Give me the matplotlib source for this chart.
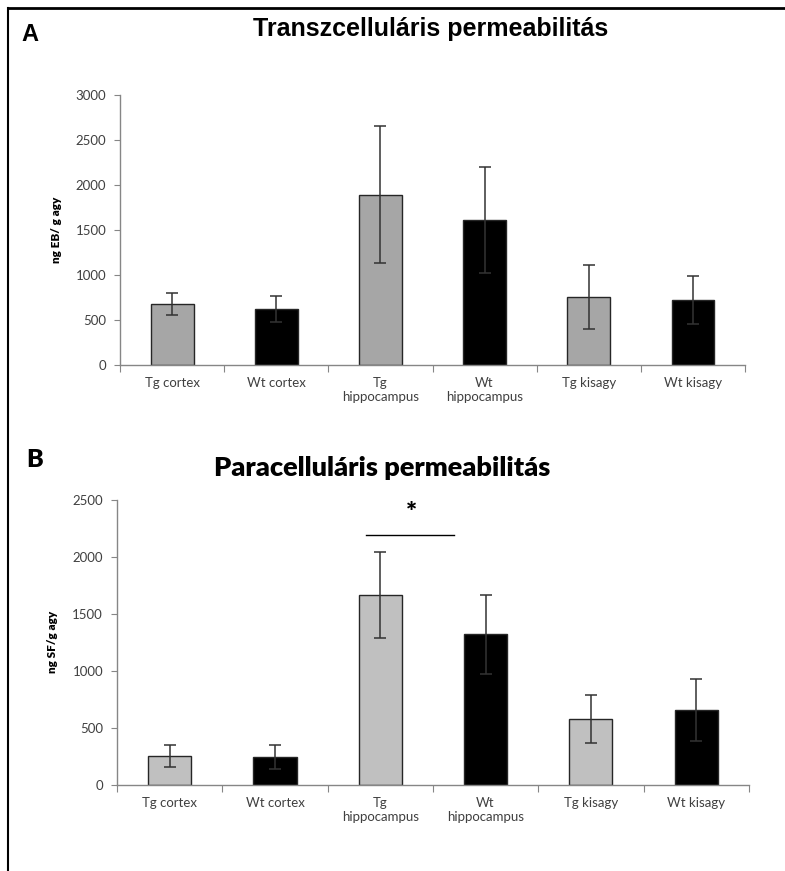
import numpy as np
from matplotlib import pyplot as plt
from matplotlib.lines import Line2D

labels = ['Tg cortex', 'Wt cortex', 'Tg\nhippocampus', 'Wt\nhippocampus', 'Tg kisagy', 'Wt kisagy']

# A: transcellular (ng EB / g agy)
trans_mean = [675, 620, 1890, 1610, 755, 720]
trans_err = [120, 145, 760, 590, 355, 265]

# B: paracellular (ng SF / g agy)
para_mean = [255, 245, 1665, 1320, 580, 655]
para_err = [95, 105, 375, 345, 210, 275]

sig_pair = (2, 3)
sig_line_y = 2190
sig_star_y = 2280

plt.rcParams['font.family'] = ['Lato', 'DejaVu Sans']

fig = plt.figure(figsize=(7.85, 8.71), dpi=100)

axis_grey = '#868686'
tick_col = '#404040'


def draw_panel(ax, means, errs, light, ymax, step, ylabel):
    x = np.arange(len(means))
    colors = [light if i % 2 == 0 else 'black' for i in x]
    ax.bar(x, means, width=0.41, color=colors, edgecolor='#262626', linewidth=1.0, zorder=2)
    ax.errorbar(x, means, yerr=errs, fmt='none', ecolor='#333333', elinewidth=1.1,
                capsize=4, capthick=1.1, zorder=3)
    ax.set_xlim(-0.5, len(means) - 0.5)
    ax.set_ylim(0, ymax)
    ax.set_yticks(np.arange(0, ymax + 1, step))
    ax.set_xticks(np.arange(-0.5, len(means)), minor=False)
    ax.set_xticklabels([])
    ax.set_xticks(x, minor=True)
    ax.set_xticklabels(labels, minor=True, fontsize=9.5, color=tick_col)
    ax.tick_params(axis='x', which='major', direction='out', length=5, color=axis_grey)
    ax.tick_params(axis='x', which='minor', length=0, pad=9)
    ax.tick_params(axis='y', direction='out', length=4, color=axis_grey, labelsize=9.5,
                   labelcolor=tick_col, pad=6)
    for s in ['top', 'right']:
        ax.spines[s].set_visible(False)
    for s in ['left', 'bottom']:
        ax.spines[s].set_color(axis_grey)
        ax.spines[s].set_linewidth(1.0)
    ax.set_ylabel(ylabel, fontsize=8.5, fontweight='heavy', labelpad=10)


axA = fig.add_axes([0.153, 0.581, 0.796, 0.310])
draw_panel(axA, trans_mean, trans_err, '#a6a6a6', 3000, 500, 'ng EB/ g agy')

axB = fig.add_axes([0.149, 0.099, 0.805, 0.327])
draw_panel(axB, para_mean, para_err, '#c0c0c0', 2500, 500, 'ng SF/g agy')

# significance marker
axB.plot([sig_pair[0] - 0.14, sig_pair[1] - 0.3], [sig_line_y, sig_line_y], color='black', lw=1.0)
axB.text((sig_pair[0] + sig_pair[1]) / 2 - 0.2, sig_star_y, '*', ha='center', va='bottom',
         fontsize=19, fontweight='heavy')

# titles and panel letters
fig.text(0.549, 0.967, 'Transzcelluláris permeabilitás', ha='center', va='center',
         fontsize=18, fontweight='bold', family='Liberation Sans')
fig.text(0.027, 0.960, 'A', ha='left', va='center', fontsize=17, fontweight='bold',
         family='Liberation Sans')
fig.text(0.487, 0.463, 'Paracelluláris permeabilitás', ha='center', va='center',
         fontsize=19.5, fontweight='heavy')
fig.text(0.033, 0.472, 'B', ha='left', va='center', fontsize=18, fontweight='heavy')

# frame lines (top and left)
fig.add_artist(Line2D([0.010, 1.0], [0.991, 0.991], color='black', lw=2.0, transform=fig.transFigure))
fig.add_artist(Line2D([0.010, 0.010], [0.0, 0.991], color='black', lw=1.5, transform=fig.transFigure))

fig.savefig('out.png', dpi=100)
